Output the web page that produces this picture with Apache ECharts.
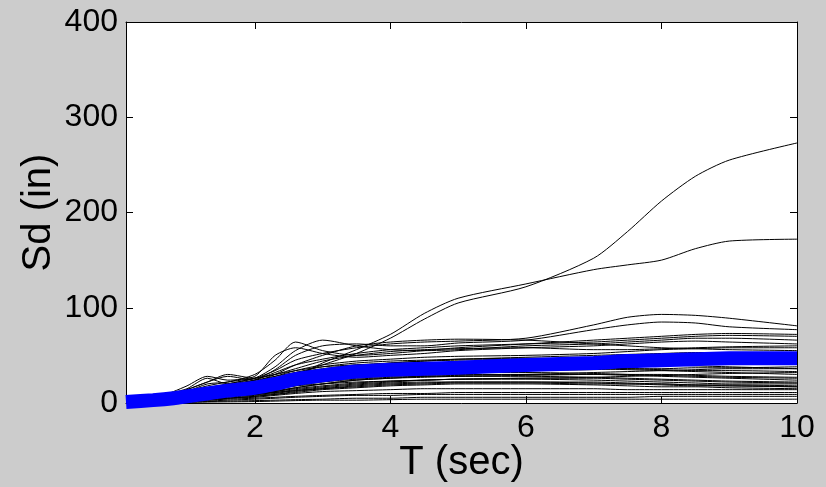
<!DOCTYPE html>
<html>
<head>
<meta charset="utf-8">
<script src="https://cdn.jsdelivr.net/npm/echarts@6/dist/echarts.min.js"></script>
<style>
html,body{margin:0;padding:0;background:#cccccc;}
#chart{width:826px;height:487px;}
</style>
</head>
<body>
<div id="chart"></div>
<script>
// Period grid (sec) shared by all records
const periods = [0.1,0.5,0.8,1.0,1.3,1.6,2.0,2.3,2.6,3.0,3.5,4,4.5,5,6,7,7.5,8,8.5,9,10];
const xTicks = [2,4,6,8,10];
const yTicks = [0,100,200,300,400];

// Mean spectral displacement (in)
const meanSd = [1,3,5,7,10,13,16,20,25,29,33,35,36,37,40,42,44,45,46,47,47];

// Individual ground-motion spectra Sd (in)
const gm01 = [0.3,2,5,7,10,14,18,24,30,40,52,68,88,105,122,152,180,212,238,255,273];
const gm02 = [0.3,2,4,6,9,12,16,21,28,42,56,72,94,110,125,140,145,150,162,170,172];
const gm03 = [0.2,2,5,8,14,20,26,34,45,52,58,62,64,65,68,82,90,93,92,89,81];
const gm04 = [0.2,3,6,9,12,18,24,35,50,60,62,60,60,63,66,77,82,85,84,80,77];
const gm05 = [0.3,3,8,12,20,22,30,45,64,55,50,52,55,58,62,66,68,70,72,73,72];
const gm06 = [0.2,2,6,10,16,20,26,38,55,66,60,56,55,56,60,62,64,66,68,68,66];
const gm07 = [0.2,4,12,18,28,24,28,50,58,52,48,50,52,55,58,60,62,64,65,64,62];
const gm08 = [0.2,2,5,8,12,16,22,30,40,50,60,64,66,67,66,62,60,58,57,56,55];
const gm09 = [0.2,2,6,10,14,18,24,32,40,46,52,56,58,60,62,64,66,68,70,71,70];
const gm10 = [0.2,4,10,14,22,30,26,30,36,44,50,54,56,57,58,56,56,57,58,59,60];
const gm11 = [0.2,2,6,10,14,18,22,28,34,40,44,46,48,49,50,52,54,56,57,58,58];
const gm12 = [0.2,2,5,8,12,15,20,26,32,38,42,44,45,46,48,50,51,52,53,53,53];
const gm13 = [0.2,4,11,15,26,20,24,28,32,36,40,42,44,45,46,47,48,48,49,50,50];
const gm14 = [0.2,2,4,7,10,14,18,22,28,34,38,42,44,46,47,46,45,44,43,42,41];
const gm15 = [0.2,3,7,12,18,22,26,30,34,38,40,41,42,42,42,42,41,40,39,38,36];
const gm16 = [0.2,2,6,9,13,17,20,25,30,34,37,38,39,40,41,42,42,42,42,42,42];
const gm17 = [0.2,3,8,14,22,28,24,26,30,34,36,37,38,38,38,37,36,35,34,34,33];
const gm18 = [0.1,2,5,8,11,14,18,22,26,30,33,35,36,37,37,36,35,34,33,32,30];
const gm19 = [0.1,1,3,5,8,10,13,17,21,25,28,30,31,32,32,31,30,29,28,27,26];
const gm20 = [0.1,1,3,5,7,9,12,15,19,23,26,28,29,30,30,30,29,28,27,26,24];
const gm21 = [0.1,1,2,4,6,8,11,14,18,22,25,27,28,28,28,27,26,25,24,23,22];
const gm22 = [0.1,1,3,5,7,9,11,13,16,20,24,26,27,28,29,30,30,30,29,28,27];
const gm23 = [0.1,1,2,4,5,7,9,12,15,18,21,23,24,25,25,24,23,22,21,20,20];
const gm24 = [0.1,1,2,3,5,7,9,11,14,17,20,22,24,25,26,26,25,24,23,22,21];
const gm25 = [0.1,1,2,3,4,6,8,10,13,16,19,21,22,22,22,21,20,20,19,19,18];
const gm26 = [0.1,1,2,3,4,5,7,9,12,15,18,20,21,22,22,22,21,20,19,18,17];
const gm27 = [0.1,0.5,1,2,3,5,7,9,11,14,16,18,19,20,20,19,18,17,17,16,15];
const gm28 = [0.1,1,2,4,6,9,12,15,18,20,22,23,24,25,26,27,28,29,30,31,32];
const gm29 = [0.1,1,3,5,7,10,13,16,20,24,28,30,32,33,34,35,36,36,37,37,38];
const gm30 = [0.1,1,2,3,5,7,9,12,16,20,24,26,28,29,30,32,33,34,35,36,36];
const gm31 = [0.1,0.5,1,2,3,4,5,6,7,8,9,10,10,11,11,11,11,11,11,11,11];
const gm32 = [0.1,0.5,1,1.5,2,3,4,5,6,7,8,8,9,9,9,9,9,9,9,9,9];
const gm33 = [0.05,0.3,0.6,1,1.5,2,2.5,3,3.5,4,5,5,6,6,6,6,6,7,7,7,7];
const gm34 = [0.05,0.2,0.4,0.6,1,1.2,1.5,2,2.5,3,3,3.5,4,4,4,4,4,4,4,4,4];
const gm35 = [0.1,0.8,1.5,2.5,4,5,6,8,10,12,13,14,15,15,15,15,14,14,14,14,14];
const gm36 = [0.1,1,2,3,5,7,9,11,13,15,17,19,20,21,21,20,20,19,18,18,17];

const records = [gm01,gm02,gm03,gm04,gm05,gm06,gm07,gm08,gm09,gm10,gm11,gm12,
  gm13,gm14,gm15,gm16,gm17,gm18,gm19,gm20,gm21,gm22,gm23,gm24,gm25,gm26,gm27,
  gm28,gm29,gm30,gm31,gm32,gm33,gm34,gm35,gm36];

const pairs = arr => arr.map((v,i) => [periods[i], v]);
const FONT = 'Liberation Sans, Arial, Helvetica, sans-serif';

const series = records.map(r => ({
  type: 'line', data: pairs(r), showSymbol: false, smooth: 0.25,
  lineStyle: {color: '#000000', width: 1}, silent: true, z: 2
}));
series.push({
  type: 'line', data: pairs(meanSd), showSymbol: false, smooth: 0.25,
  lineStyle: {color: '#0000ff', width: 14, cap: 'butt'}, silent: true, z: 5
});

const chart = echarts.init(document.getElementById('chart'), null, {renderer: 'canvas'});
chart.setOption({
  backgroundColor: '#cccccc',
  animation: false,
  grid: {left: 126, right: 29, top: 22, bottom: 84, show: true, backgroundColor: '#ffffff',
    borderWidth: 0, containLabel: false, outerBoundsMode: 'none'},
  xAxis: [{
    type: 'value', min: 0.1, max: 10, position: 'bottom',
    name: 'T (sec)', nameLocation: 'middle', nameGap: 40, nameMoveOverlap: false,
    nameTextStyle: {fontFamily: FONT, fontSize: 40, color: '#000'},
    axisLine: {show: true, onZero: false, lineStyle: {color: '#000', width: 1}},
    axisTick: {show: true, inside: true, length: 7, customValues: xTicks, lineStyle: {color: '#000'}},
    axisLabel: {show: true, customValues: xTicks, fontFamily: FONT, fontSize: 32, color: '#000', margin: 9},
    splitLine: {show: false}
  }, {
    type: 'value', min: 0.1, max: 10, position: 'top',
    axisLine: {show: true, onZero: false, lineStyle: {color: '#000', width: 1}},
    axisTick: {show: true, inside: true, length: 7, customValues: xTicks, lineStyle: {color: '#000'}},
    axisLabel: {show: false},
    splitLine: {show: false}
  }],
  yAxis: [{
    type: 'value', min: 0, max: 400, interval: 100, position: 'left',
    name: 'Sd (in)', nameLocation: 'middle', nameGap: 67, nameMoveOverlap: false,
    nameTextStyle: {fontFamily: FONT, fontSize: 40, color: '#000'},
    axisLine: {show: true, onZero: false, lineStyle: {color: '#000', width: 1}},
    axisTick: {show: true, inside: true, length: 7, lineStyle: {color: '#000'}},
    axisLabel: {show: true, fontFamily: FONT, fontSize: 32, color: '#000', margin: 8,
      formatter: v => yTicks.includes(v) ? String(v) : ''},
    splitLine: {show: false}
  }, {
    type: 'value', min: 0, max: 400, interval: 100, position: 'right',
    axisLine: {show: true, onZero: false, lineStyle: {color: '#000', width: 1}},
    axisTick: {show: true, inside: true, length: 7, lineStyle: {color: '#000'}},
    axisLabel: {show: false},
    splitLine: {show: false}
  }],
  series: series
});
</script>
</body>
</html>
